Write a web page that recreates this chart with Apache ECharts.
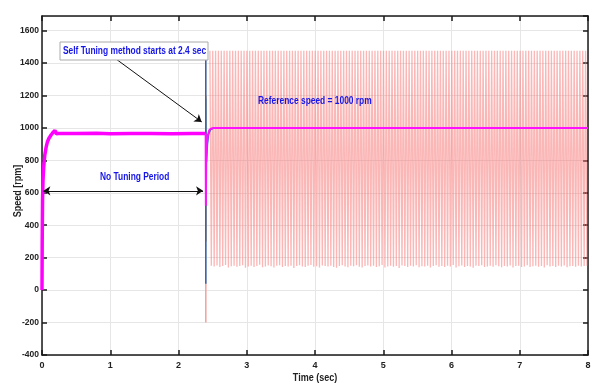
<!DOCTYPE html>
<html><head><meta charset="utf-8">
<script src="https://cdn.jsdelivr.net/npm/echarts@6/dist/echarts.min.js"></script>
<style>html,body{margin:0;padding:0;background:#fff}#c{width:608px;height:386px}</style>
</head><body><div id="c"></div>
<script>
// ---- data ----
const xTickLabels = [0,1,2,3,4,5,6,7,8];
const yTickLabels = [-400,-200,0,200,400,600,800,1000,1200,1400,1600];

// magenta speed, startup / no tuning period
const startTime  = [0, 0.003, 0.008, 0.015, 0.025, 0.04, 0.06, 0.08, 0.1, 0.13, 0.16, 0.19, 0.21, 0.24, 0.5, 0.8, 1.0, 1.3, 1.6, 1.9, 2.2, 2.39];
const startSpeed = [0, 300, 560, 680, 760, 830, 880, 915, 935, 955, 972, 985, 964, 966, 965, 967, 964, 966, 965, 964, 966, 965];

// magenta speed, self tuning period
const tuneTime  = [2.398, 2.401, 2.406, 2.415, 2.43, 2.45, 2.48, 2.52, 3.0, 4.0, 5.0, 6.0, 7.0, 8.0];
const tuneSpeed = [965, 520, 780, 900, 955, 985, 996, 1000, 1000, 1000, 1000, 1000, 1000, 1000];

// blue trace
const blueTime = [2.399, 2.400, 2.401, 2.403, 2.41, 2.425, 2.44, 2.47, 2.52, 8.0];
const blueVal  = [1480, 40, 1180, 820, 790, 900, 960, 990, 1000, 1000];

// orange trace
const orangeTime = [2.399, 2.4005];
const orangeVal  = [1200, 300];

// pink trace (spike + oscillation)
const spikeTime = [2.399, 2.4];
const spikeVal  = [1480, -200];
const oscStart = 2.46;
const oscPeriod = 0.0417;
const oscTop = 1476;
const oscLow = [150,146,152,143,148,155,140,147,151,144,
149,153,138,146,150,142,148,156,141,145,
152,147,139,150,154,143,148,145,151,137,
149,153,146,142,150,155,144,147,140,152,
148,145,151,143,138,149,154,146,141,150,
147,153,144,139,148,152,145,150,142,147,
155,140,146,151,144,149,137,152,148,143,
150,146,154,141,147,145,151,139,149,153,
144,148,142,150,146,155,140,147,152,143,
149,145,138,151,148,154,142,146,150,144,
153,147,141,149,145,152,139,148,150,143,
146,154,142,147,151,144,149,140,153,146,
148,143,150,145,152,141,147,149,144,151,
146,148,150];

// ---- build ----
const zip = (a, b) => a.map((v, i) => [v, b[i]]);
const oscData = [];
oscLow.forEach((lo, i) => {
  const t = oscStart + i * oscPeriod;
  oscData.push([t, oscTop]);
  oscData.push([t + oscPeriod / 2, lo]);
});

const FONT = "'Liberation Sans',Arial,sans-serif";
const BLUE_TXT = '#1515e8';
const axisLine = {show: true, onZero: false, lineStyle: {color: '#1a1a1a', width: 1.5}};
const tickIn = {show: true, inside: true, length: 5, lineStyle: {color: '#1a1a1a', width: 1.5}};
const grid = {left: 42, right: 20, top: 16, bottom: 31, containLabel: false, outerBoundsMode: 'none'};
const SX = 0.8;

const chart = echarts.init(document.getElementById('c'), null, {renderer: 'canvas'});
chart.setOption({
  animation: false,
  backgroundColor: '#fff',
  grid: grid,
  xAxis: [{
    type: 'value', min: 0, max: 8, interval: 1, position: 'bottom',
    axisLine: axisLine, axisTick: tickIn,
    axisLabel: {fontFamily: FONT, fontWeight: 'bold', fontSize: 9, color: '#222', margin: 6,
      formatter: v => xTickLabels.includes(v) ? String(v) : ''},
    splitLine: {show: true, lineStyle: {color: '#e6e6e6', width: 1}}
  }, {
    type: 'value', min: 0, max: 8, interval: 1, position: 'top',
    axisLine: axisLine, axisTick: tickIn, axisLabel: {show: false}, splitLine: {show: false}
  }],
  yAxis: [{
    type: 'value', min: -400, max: 1690, interval: 200, position: 'left',
    axisLine: axisLine, axisTick: tickIn,
    axisLabel: {fontFamily: FONT, fontWeight: 'bold', fontSize: 8.5, color: '#222', margin: 3, showMaxLabel: false,
      formatter: v => yTickLabels.includes(v) ? String(v) : ''},
    splitLine: {show: true, lineStyle: {color: '#e6e6e6', width: 1}}
  }, {
    type: 'value', min: -400, max: 1690, interval: 200, position: 'right',
    axisLine: axisLine, axisTick: tickIn, axisLabel: {show: false}, splitLine: {show: false}
  }],
  series: [
    {type: 'line', data: oscData, showSymbol: false, symbol: 'none', silent: true,
      lineStyle: {color: 'rgba(248,110,110,0.5)', width: 1.3}},
    {type: 'line', data: zip(spikeTime, spikeVal), symbol: 'none', silent: true,
      lineStyle: {color: '#f4a09a', width: 1.5}},
    {type: 'line', data: zip(orangeTime, orangeVal), symbol: 'none', silent: true,
      lineStyle: {color: '#e8782a', width: 1.5}},
    {type: 'line', data: zip(blueTime, blueVal), symbol: 'none', silent: true,
      lineStyle: {color: '#1a6fc0', width: 1.5}},
    {type: 'line', data: zip(startTime, startSpeed), symbol: 'none', silent: true,
      lineStyle: {color: '#ff00ff', width: 3.5}},
    {type: 'line', data: zip(tuneTime, tuneSpeed), symbol: 'none', silent: true,
      lineStyle: {color: '#ff10ff', width: 2}},
    {type: 'line', data: [], symbol: 'none', silent: true,
      markLine: {silent: true, animation: false, label: {show: false}, symbolSize: 7,
        lineStyle: {color: '#111', width: 1, type: 'solid'},
        data: [
          [{coord: [1.10, 1420], symbol: 'none'}, {coord: [2.34, 1037], symbol: 'arrow'}],
          [{coord: [0.02, 612], symbol: 'arrow'}, {coord: [2.36, 612], symbol: 'arrow'}]
        ]}}
  ],
  graphic: [
    {type: 'rect', shape: {x: 60, y: 42, width: 148, height: 18}, z: 100,
      style: {fill: '#fff', stroke: '#aaaaaa', lineWidth: 1}},
    {type: 'text', x: 63, y: 51, z: 101, scaleX: SX,
      style: {text: 'Self Tuning method starts at 2.4 sec', fill: BLUE_TXT, fontFamily: FONT, fontWeight: 'bold', fontSize: 10.5, verticalAlign: 'middle'}},
    {type: 'text', x: 258, y: 101, z: 101, scaleX: SX,
      style: {text: 'Reference speed = 1000 rpm', fill: BLUE_TXT, fontFamily: FONT, fontWeight: 'bold', fontSize: 10.5, verticalAlign: 'middle'}},
    {type: 'text', x: 100, y: 177, z: 101, scaleX: SX,
      style: {text: 'No Tuning Period', fill: BLUE_TXT, fontFamily: FONT, fontWeight: 'bold', fontSize: 10.5, verticalAlign: 'middle'}},
    {type: 'text', x: 315, y: 378, z: 101, scaleX: 0.9,
      style: {text: 'Time (sec)', fill: '#222', fontFamily: FONT, fontWeight: 'bold', fontSize: 10, align: 'center', verticalAlign: 'middle'}},
    {type: 'text', x: 18, y: 191, z: 101, rotation: Math.PI / 2, scaleX: 0.9,
      style: {text: 'Speed [rpm]', fill: '#222', fontFamily: FONT, fontWeight: 'bold', fontSize: 10, align: 'center', verticalAlign: 'middle'}}
  ]
});
</script></body></html>
